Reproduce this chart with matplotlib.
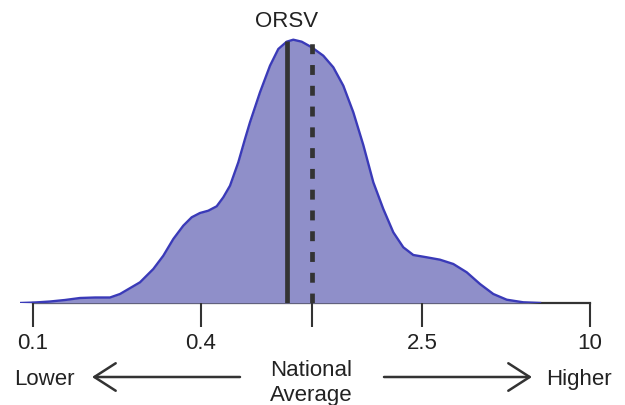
"""Distribution of ratios relative to the national average, ORSV highlighted."""

import matplotlib
matplotlib.use("Agg")
import matplotlib.pyplot as plt
from matplotlib import transforms
from matplotlib.patches import FancyArrowPatch

# density curve (ratio, relative density)
ratio = [0.0898, 0.1017, 0.1151, 0.1302, 0.1475, 0.1670, 0.1890, 0.2053,
         0.2422, 0.2704, 0.2937, 0.3190, 0.3464, 0.3713, 0.3977, 0.4260,
         0.4566, 0.4823, 0.5098, 0.5460, 0.5770, 0.6013, 0.6532, 0.7096,
         0.7600, 0.8146, 0.8602, 0.9223, 1.0017, 1.1025, 1.1976, 1.3008,
         1.4130, 1.5346, 1.6672, 1.8106, 1.9666, 2.1361, 2.3204, 2.5924,
         2.8935, 3.2303, 3.6093, 4.0272, 4.4957, 5.0234, 5.7611, 6.6144]
density = [0.0, 0.5, 1.5, 3.0, 5.0, 5.5, 5.5, 9.0,
           20.7, 34.0, 47.3, 64.0, 77.3, 85.7, 90.0, 92.3,
           96.7, 105.7, 117.3, 140.7, 164.0, 180.7, 210.7, 237.3,
           254.0, 261.3, 263.3, 261.3, 255.7, 247.3, 235.7, 217.3,
           190.7, 158.0, 120.7, 94.0, 70.7, 55.7, 48.0, 45.7,
           43.3, 39.0, 30.7, 19.0, 9.0, 3.3, 0.7, 0.0]

orsv_value = 0.815
orsv_height = 262
national_value = 1.0
national_height = 262

tick_values = [0.1, 0.4, 1.0, 2.5, 10]
tick_labels = ["0.1", "0.4", "", "2.5", "10"]

dark = "#333333"
text_color = "#222222"
fill_color = "#8f8fc9"
edge_color = "#3a3ab8"

plt.rcParams["font.family"] = ["Liberation Sans", "DejaVu Sans"]

fig = plt.figure(figsize=(6.25, 4.06), dpi=100)
ax = fig.add_axes([20 / 625, 102 / 406, 580 / 625, 274 / 406])

ax.fill_between(ratio, density, 0, color=fill_color, lw=0)
ax.plot(ratio, density, color=edge_color, lw=1.7, solid_joinstyle="round")

ax.vlines(orsv_value, 0, orsv_height, color=dark, lw=3.4)
ax.vlines(national_value, 0, national_height, color=dark, lw=3.4,
          linestyles=(0, (2.1, 2.3)))

ax.set_xscale("log")
ax.set_xlim(10 ** -1.0467, 10 ** 1.0359)
ax.set_ylim(0, 274)

for side in ["top", "right", "left"]:
    ax.spines[side].set_visible(False)
ax.spines["bottom"].set_bounds(0.1, 10)
ax.spines["bottom"].set_color(dark)
ax.spines["bottom"].set_linewidth(1.6)
ax.spines["bottom"].set_zorder(0.5)

ax.set_yticks([])
ax.set_xticks(tick_values)
ax.set_xticklabels(tick_labels)
ax.minorticks_off()
ax.tick_params(axis="x", direction="out", length=17, width=1.5, color=dark,
               labelcolor=text_color, labelsize=16, pad=4)

trans = transforms.blended_transform_factory(ax.transData, ax.transAxes)
ax.text(orsv_value, 1.03, "ORSV", transform=trans, ha="center", va="center",
        fontsize=16, color=text_color)

fig.text(44 / 625, 1 - 380 / 406, "Lower", ha="center", va="center",
         fontsize=16, color=text_color)
fig.text(579 / 625, 1 - 380 / 406, "Higher", ha="center", va="center",
         fontsize=16, color=text_color)
fig.text(311 / 625, 1 - 383 / 406, "National\nAverage", ha="center",
         va="center", fontsize=16, color=text_color, linespacing=1.25)

arrow = dict(arrowstyle="->,head_length=0.7,head_width=0.45", color=dark,
             lw=1.8, mutation_scale=22, shrinkA=0, shrinkB=0)
fig.add_artist(FancyArrowPatch((240 / 625, 1 - 378 / 406),
                               (92 / 625, 1 - 378 / 406),
                               transform=fig.transFigure, **arrow))
fig.add_artist(FancyArrowPatch((384 / 625, 1 - 378 / 406),
                               (532 / 625, 1 - 378 / 406),
                               transform=fig.transFigure, **arrow))

fig.savefig("out.png", dpi=100)
